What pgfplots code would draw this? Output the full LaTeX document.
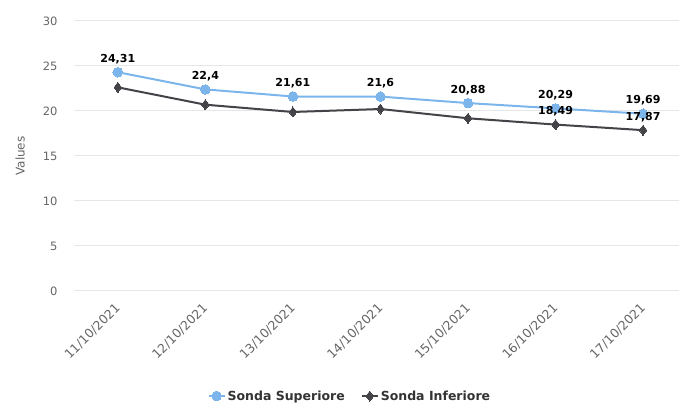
\documentclass[border=0pt]{standalone}
\usepackage{fontspec}
\setmainfont{DejaVu Sans}
\usepackage{pgfplots}
\pgfplotsset{compat=1.18}
\definecolor{supc}{HTML}{7CB5EC}
\definecolor{infc}{HTML}{434348}
\definecolor{gridc}{HTML}{E6E6E6}
\definecolor{tickc}{HTML}{666666}
\definecolor{legc}{HTML}{333333}
\begin{document}
\begin{tikzpicture}[x=1pt,y=1pt]
\useasboundingbox (0,0) rectangle (679,403);
\begin{axis}[
  at={(74pt,112pt)}, anchor=south west,
  scale only axis, width=605pt, height=270pt,
  xmin=-0.5, xmax=6.41, ymin=0, ymax=30,
  xtick={0,...,6},
  xticklabels={11/10/2021,12/10/2021,13/10/2021,14/10/2021,15/10/2021,16/10/2021,17/10/2021},
  ytick={0,5,...,30},
  axis line style={draw=none},
  major tick length=0pt,
  ymajorgrids, grid style={gridc, line width=1pt},
  /pgf/number format/assume math mode=true,
  /pgf/number format/.cd, fixed, precision=2, use comma, 1000 sep={},
  /pgfplots/.cd,
  yticklabel style={font=\fontsize{11.5}{13}\selectfont, text=tickc, anchor=east, xshift=-13pt},
  xticklabel style={font=\fontsize{12.5}{14}\selectfont, text=tickc, rotate=45, anchor=east, xshift=-7pt, yshift=-10.7pt},
  ylabel={Values},
  ylabel style={at={(axis description cs:-0.089,0.5)}, anchor=center, text=tickc, font=\fontsize{12}{14}\selectfont},
  legend style={at={(0.456,-0.389)}, anchor=center, draw=none, fill=none, legend columns=2,
    font=\bfseries\fontsize{12.5}{15}\selectfont, text=legc,
    /tikz/every even column/.append style={column sep=14pt}},
  legend image code/.code={\draw[#1, mark repeat=2, mark phase=2] plot coordinates {(0pt,0pt) (8pt,0pt) (16pt,0pt)};},
  every node near coord/.append style={font=\bfseries\fontsize{11}{13}\selectfont, text=black, anchor=south, yshift=5pt},
]
\addplot[color=supc, line width=2pt, mark=*, mark size=4.8pt, mark options={solid, fill=supc, draw=supc, line width=0pt}, nodes near coords]
  coordinates {(0,24.31) (1,22.4) (2,21.61) (3,21.6) (4,20.88) (5,20.29) (6,19.69)};
\addlegendentry{Sonda Superiore}
\addplot[color=infc, line width=2pt, mark=diamond*, mark size=5pt, mark options={solid, fill=infc, draw=infc, line width=0pt}]
  coordinates {(0,22.63) (1,20.70) (2,19.89) (3,20.22) (4,19.19) (5,18.49) (6,17.87)};
\addlegendentry{Sonda Inferiore}
\addplot[draw=none, mark=none, nodes near coords, forget plot]
  coordinates {(5,18.49) (6,17.87)};
\end{axis}
\end{tikzpicture}
\end{document}
